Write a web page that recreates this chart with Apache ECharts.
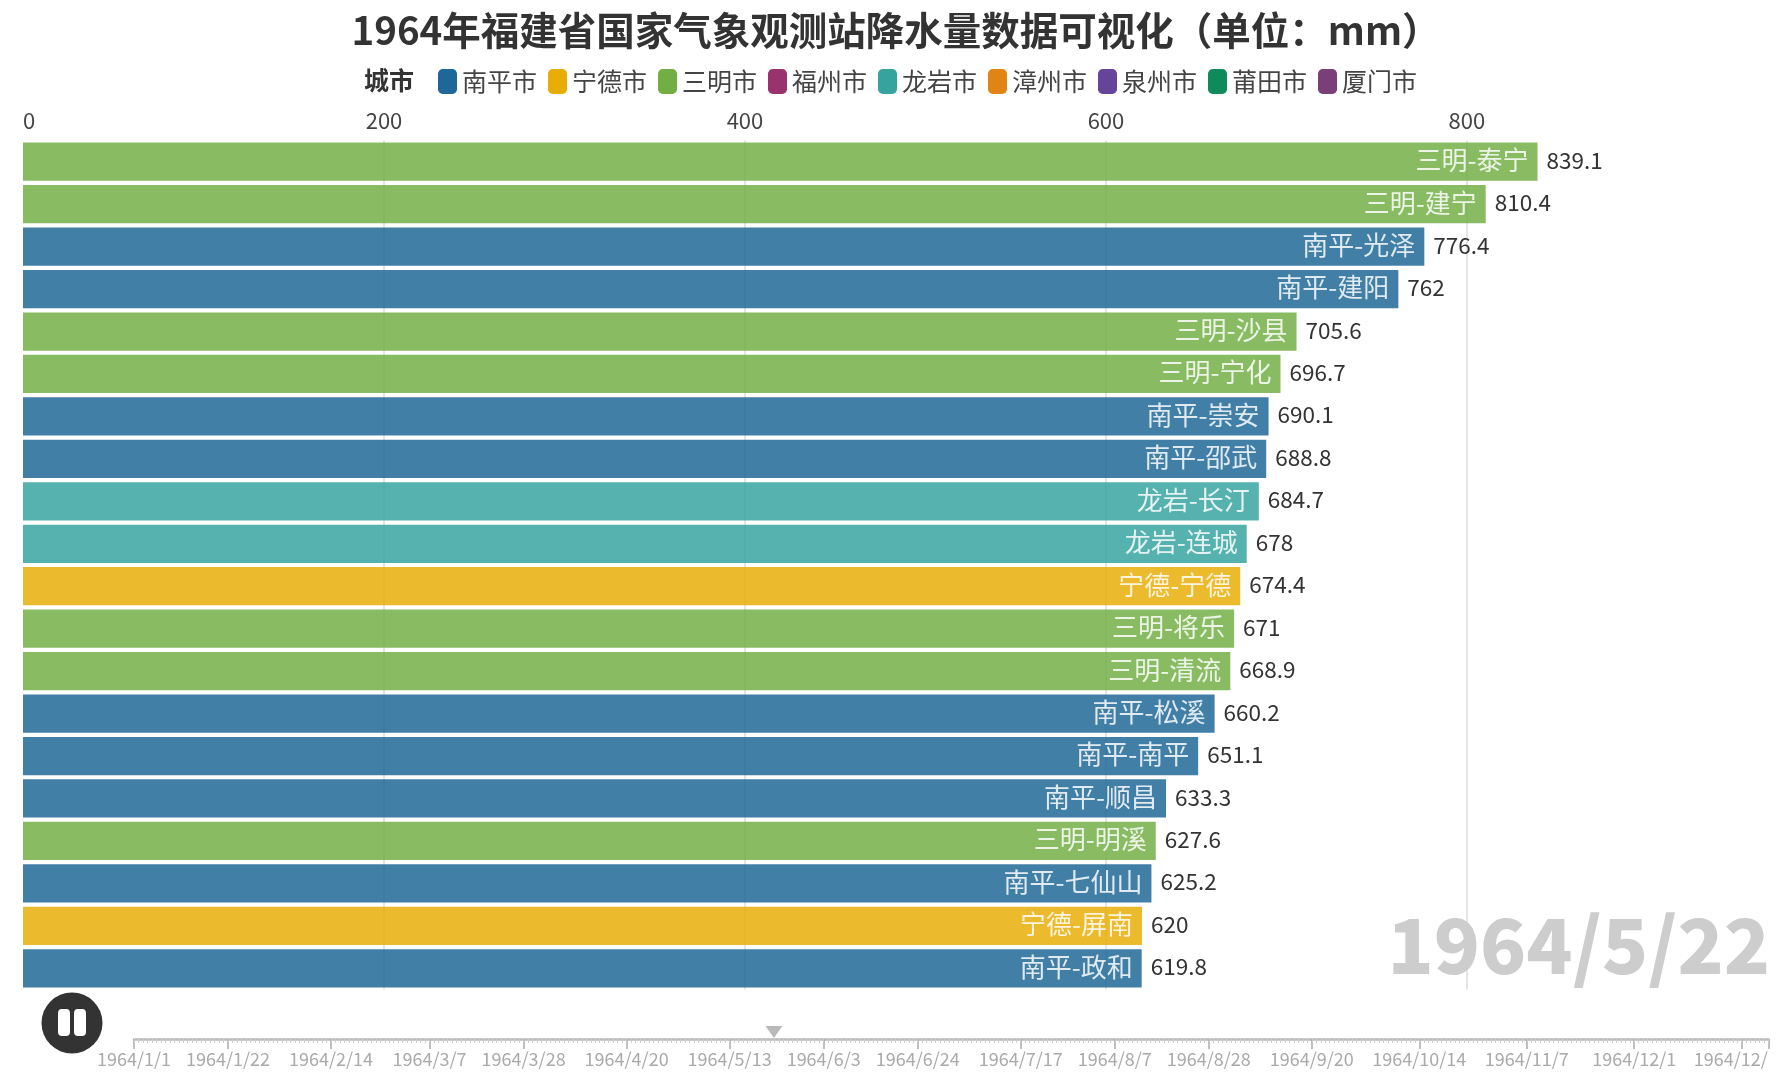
<!DOCTYPE html>
<html><head><meta charset="utf-8">
<style>html,body{margin:0;padding:0;background:#fff}#c{width:1792px;height:1080px}</style>
<script src="https://cdn.jsdelivr.net/npm/echarts@6/dist/echarts.min.js"></script></head>
<body><div id="c"></div>
<script>
const titleText='1964年福建省国家气象观测站降水量数据可视化（单位：mm）';
const currentDate='1964/5/22';
const cityNames=['南平市','宁德市','三明市','福州市','龙岩市','漳州市','泉州市','莆田市','厦门市'];
const cityColors=['#1e6796','#e8ad05','#72ae44','#99336f','#36a39e','#e08414','#66449a','#0f8a5a','#7a3f78'];
const stations=['三明-泰宁','三明-建宁','南平-光泽','南平-建阳','三明-沙县','三明-宁化','南平-崇安','南平-邵武','龙岩-长汀','龙岩-连城','宁德-宁德','三明-将乐','三明-清流','南平-松溪','南平-南平','南平-顺昌','三明-明溪','南平-七仙山','宁德-屏南','南平-政和'];
const rainfall=[839.1,810.4,776.4,762,705.6,696.7,690.1,688.8,684.7,678,674.4,671,668.9,660.2,651.1,633.3,627.6,625.2,620,619.8];
const majorDates=['1964/1/1','1964/1/22','1964/2/14','1964/3/7','1964/3/28','1964/4/20','1964/5/13','1964/6/3','1964/6/24','1964/7/17','1964/8/7','1964/8/28','1964/9/20','1964/10/14','1964/11/7','1964/12/1','1964/12/25'];

const FONT='"Noto Sans CJK SC"';
function key(s){const p=s.split('/').map(Number);return Date.UTC(p[0],p[1]-1,p[2]);}
const DAY=86400000;
const days=[];for(let t=key('1964/1/1');t<=key('1964/12/31');t+=DAY){const d=new Date(t);days.push(d.getUTCFullYear()+'/'+(d.getUTCMonth()+1)+'/'+d.getUTCDate());}
const majorSet=new Set(majorDates);

const citySeries=cityNames.map((c,i)=>({
  type:'bar',name:c,xAxisIndex:0,yAxisIndex:0,barGap:'-100%',barCategoryGap:'10%',
  itemStyle:{color:cityColors[i],opacity:0.84},
  label:{show:true,position:'insideRight',distance:9,offset:[0,-1.5],color:'#fff',fontSize:26,fontFamily:FONT,formatter:p=>p.name},
  data:stations.map((s,j)=>s.slice(0,2)+'市'===c?rainfall[j]:null)
}));
const valueSeries={type:'bar',name:'降水量',xAxisIndex:0,yAxisIndex:0,barGap:'-100%',barCategoryGap:'10%',silent:true,
  itemStyle:{color:'transparent'},
  label:{show:true,position:'right',distance:9,offset:[0,-1.5],color:'#333',fontSize:22.5,fontFamily:FONT,formatter:p=>String(p.value)},
  data:rainfall};
const markerSeries={type:'scatter',name:'当前日期',xAxisIndex:1,yAxisIndex:1,silent:true,symbol:'triangle',symbolRotate:180,symbolSize:[17,12],symbolOffset:[4,-7],
  itemStyle:{color:'#a8a8a8'},data:[[currentDate,0]]};

const chart=echarts.init(document.getElementById('c'),null,{renderer:'canvas'});
chart.setOption({
  animation:false,backgroundColor:'#fff',
  title:{text:titleText,left:'center',top:11,padding:0,textStyle:{fontFamily:FONT,fontSize:38.5,fontWeight:'bold',color:'#333'}},
  legend:{data:cityNames,top:64,left:433,itemWidth:19,itemHeight:25,itemGap:11,icon:'roundRect',selectedMode:false,
    itemStyle:{opacity:1},
    textStyle:{fontFamily:FONT,fontSize:25,color:'#444'}},
  grid:[{left:23,top:140.5,width:1514.5,height:849},{left:134,top:1038,width:1634.6,height:1},{left:134,top:1038,width:1634.6,height:1}],
  xAxis:[
    {type:'value',gridIndex:0,position:'top',min:0,max:839.1,interval:200,axisLine:{show:false},axisTick:{show:false},
     axisLabel:{fontFamily:FONT,fontSize:22,color:'#444',margin:9,alignMinLabel:'left',showMaxLabel:false,formatter:v=>v===839.1?'':v},
     splitLine:{show:true,showMinLine:false,showMaxLine:false,lineStyle:{color:'#dcdcdc',width:1.5}}},
    {type:'category',gridIndex:1,data:days,boundaryGap:false,position:'bottom',
     axisLine:{show:true,lineStyle:{color:'#bbb',width:2.5}},
     axisTick:{show:true,alignWithLabel:true,length:10,interval:(i,v)=>majorSet.has(v)||i===days.length-1,lineStyle:{color:'#aaa',width:1.5}},
     axisLabel:{interval:(i,v)=>majorSet.has(v),hideOverlap:false,margin:11,fontFamily:FONT,fontSize:18,color:'#aaa',
       formatter:v=>v==='1964/12/25'?'{c|1964/12/}':v,rich:{c:{padding:[0,22,0,0],fontFamily:FONT,fontSize:18,color:'#aaa'}}},
     splitLine:{show:false}},
    {type:'category',gridIndex:2,data:days,boundaryGap:false,position:'bottom',
     axisLine:{show:false},axisLabel:{show:false},
     axisTick:{show:true,alignWithLabel:true,length:4,interval:0,lineStyle:{color:'#ccc',width:1}},splitLine:{show:false}}
  ],
  yAxis:[
    {type:'category',gridIndex:0,data:stations,inverse:true,axisLine:{show:false},axisTick:{show:false},axisLabel:{show:false},splitLine:{show:false}},
    {type:'value',gridIndex:1,min:0,max:1,show:false},
    {type:'value',gridIndex:2,min:0,max:1,show:false}
  ],
  series:[...citySeries,valueSeries,markerSeries],
  graphic:[
    {type:'text',left:364,top:68,style:{text:'城市',fontFamily:FONT,fontSize:25,fontWeight:'bold',fill:'#333'}},
    {type:'text',right:22,top:907,z:1,style:{text:currentDate,fontFamily:FONT,fontSize:76,fontWeight:900,fill:'#cdcdcd'}},
    {type:'circle',shape:{cx:72,cy:1023,r:30.5},style:{fill:'#333'}},
    {type:'rect',shape:{x:58,y:1009,width:12,height:27,r:4},style:{fill:'#fff'}},
    {type:'rect',shape:{x:74,y:1009,width:12,height:27,r:4},style:{fill:'#fff'}}
  ]
});
</script></body></html>
